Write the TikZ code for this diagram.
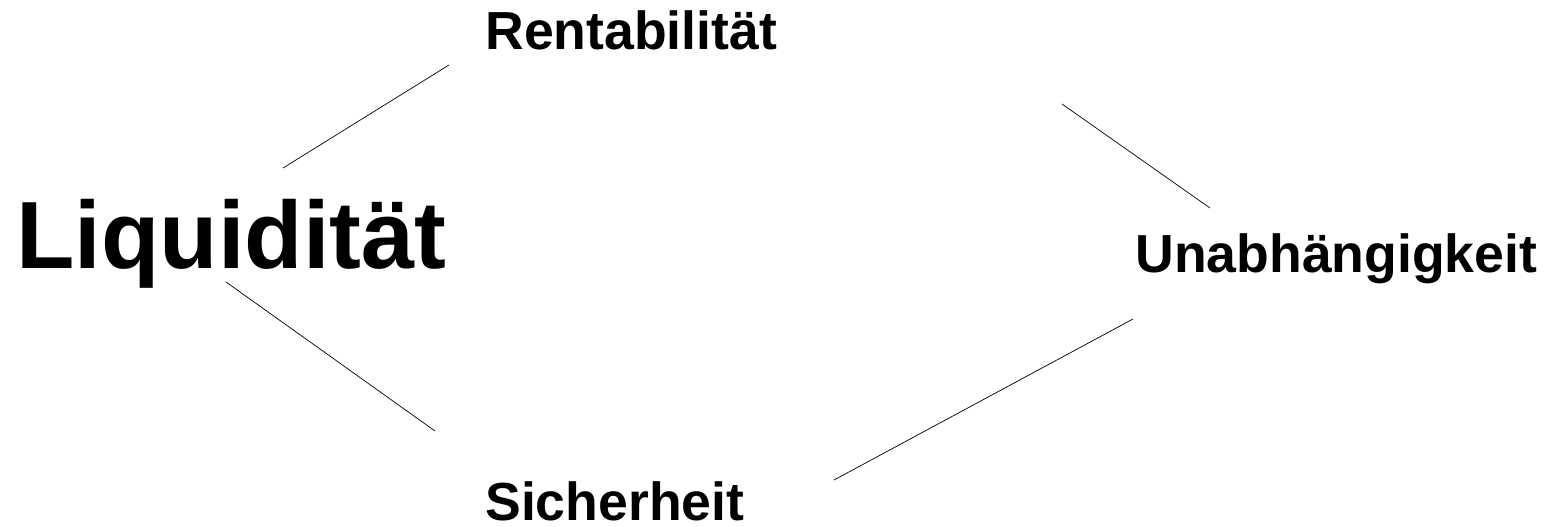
\documentclass[tikz,border=0pt]{standalone}
\usepackage{fontspec}
\setmainfont{Liberation Sans}

\begin{document}
\begin{tikzpicture}[x=0.02cm, y=-0.02cm]
	\tikzstyle{every node}=[inner sep=0pt, anchor=base west, font=\bfseries\fontsize{30.5}{36}\selectfont]
	\useasboundingbox (0,0) rectangle (1553,527);

	\node (liq) at (16, 268) {\fontsize{54.4}{64}\selectfont Liquidität};
	\node (rent) at (485, 50) {Rentabilität};
	\node (unab) at (1135, 273) {Unabhängigkeit};
	\node (sich) at (485, 520) {Sicherheit};

	\coordinate (liq-r) at (283, 168);
	\coordinate (rent-l) at (449, 65);
	\coordinate (rent-r) at (1062, 104);
	\coordinate (unab-t) at (1210, 208);
	\coordinate (liq-s) at (226, 282);
	\coordinate (sich-l) at (435, 431);
	\coordinate (sich-r) at (834, 480);
	\coordinate (unab-b) at (1133, 319);

	\draw[-]  (liq-r) to (rent-l);
	\draw[-]  (rent-r) to (unab-t);
	\draw[-]  (liq-s) to (sich-l);
	\draw[-]  (sich-r) to (unab-b);
\end{tikzpicture}
\end{document}
